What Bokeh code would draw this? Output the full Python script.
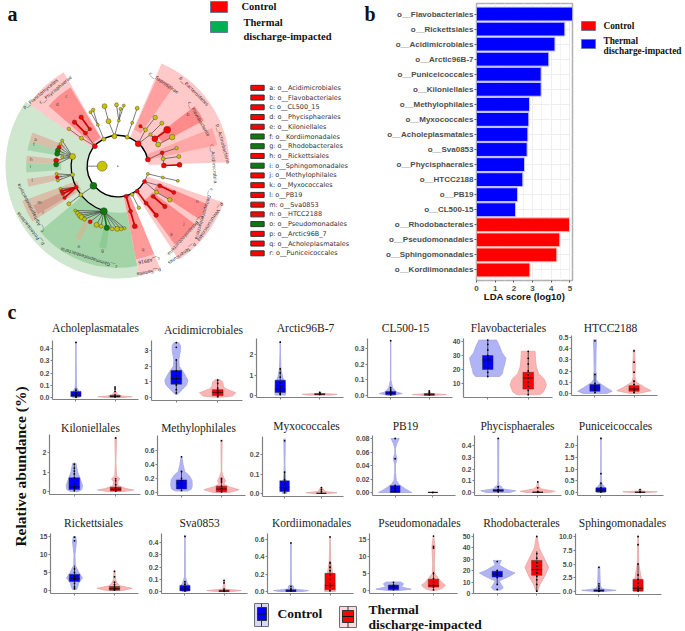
from bokeh.plotting import figure
from bokeh.models import FixedTicker, FactorRange, Range1d, NumeralTickFormatter
from bokeh.embed import file_html
from bokeh.resources import INLINE
from bokeh.core.properties import value

SERIF = "Liberation Serif"
SANS = "Liberation Sans"

# ---------- panel b ----------
lda_names = ["o__Flavobacteriales", "o__Rickettsiales", "o__Acidimicrobiales", "o__Arctic96B-7",
             "o__Puniceicoccales", "o__Kiloniellales", "o__Methylophilales", "o__Myxococcales",
             "o__Acholeplasmatales", "o__Sva0853", "o__Phycisphaerales", "o__HTCC2188", "o__PB19",
             "o__CL500-15", "o__Rhodobacterales", "o__Pseudomonadales", "o__Sphingomonadales",
             "o__Kordiimonadales"]
lda_scores = [5.14, 4.73, 4.2, 3.87, 3.46, 3.46, 2.84, 2.8, 2.75, 2.71, 2.57, 2.48, 2.2, 2.09, 4.98, 4.46, 4.3, 2.86]
lda_groups = ["b"] * 14 + ["r"] * 4

# ---------- panel a legend ----------
clade_letters = list("abcdefghijklmnopqr")
clade_orders = ["Acidimicrobiales", "Flavobacteriales", "CL500_15", "Phycisphaerales", "Kiloniellales",
                "Kordiimonadales", "Rhodobacterales", "Rickettsiales", "Sphingomonadales", "Methylophilales",
                "Myxococcales", "PB19", "Sva0853", "HTCC2188", "Pseudomonadales", "Arctic96B_7",
                "Acholeplasmatales", "Puniceicoccales"]
clade_green = ["f", "g", "i", "o"]

# ---------- panel a cladogram: sector shading (start deg, end deg, inner, outer, colour) ----------
sector_start = [120, 145, 281, 303, 2, 220, 121, 281, 306, 327, 55, 28, 12, 158.5, 164.5, 173.5, 178, 188, 200, 205, 239, 257]
sector_end = [147, 281, 292.5, 341, 67, 281, 139, 292.5, 323, 337, 66, 38, 22, 165, 170, 178, 184, 193, 213, 211, 243, 262]
sector_inner = [92, 92, 285, 92, 92, 140, 100, 92, 130, 130, 120, 150, 92, 170, 165, 170, 170, 170, 130, 150, 190, 190]
sector_outer = [325, 337, 335, 335, 335, 305, 275, 285, 290, 292, 292, 292, 305, 275, 275, 275, 275, 275, 305, 280, 250, 250]
sector_color = ["#ffc9c9", "#cfe6cf", "#ffc9c9", "#ffc9c9", "#ffc9c9", "#a3d4a8", "#ff8f8f", "#ff9a9a",
                "#ff8a8a", "#ff8a8a", "#ff9f9f", "#ff8a8a", "#ffa6a6", "#d9bfa9", "#a8d5ae", "#d9bfa9",
                "#a8d5ae", "#d9bfa9", "#d9bfa9", "#d29f8f", "#c3bf98", "#8ccb94"]

# ---------- panel a cladogram: nodes (x, y, parent x, parent y, colour, size, thick) ----------
clade_nodes = [
    (352, 497, 352, 497, "y", 1, 0), (305, 497, 260, 497, "y", 10, 0),
    (283, 437, 283, 437, "r", 5, 0), (310, 416, 310, 416, "y", 4, 0), (342, 407, 342, 407, "y", 5, 0),
    (380, 410, 380, 410, "y", 4, 0), (413, 430, 413, 430, "r", 6, 0), (442, 477, 442, 477, "r", 5, 0),
    (432, 543, 432, 543, "r", 4, 0), (410, 572, 410, 572, "r", 4, 0), (377, 587, 377, 587, "r", 4, 0),
    (279, 556, 279, 556, "g", 7, 0),
    (243, 413, 283, 437, "y", 4, 0), (205, 385, 243, 413, "y", 3.5, 0), (255, 398, 283, 437, "r", 4, 0),
    (222, 365, 255, 398, "r", 4.5, 1), (268, 386, 255, 398, "r", 3.5, 0), (242, 350, 268, 386, "r", 4.5, 1),
    (292, 373, 310, 416, "y", 3, 0), (270, 335, 292, 373, "y", 3, 0), (278, 328, 292, 373, "y", 3.5, 0),
    (324, 362, 342, 407, "y", 5, 0), (355, 360, 342, 407, "y", 3, 0), (312, 317, 324, 362, "y", 5, 0),
    (348, 313, 355, 360, "y", 4, 0), (360, 325, 355, 360, "y", 3, 0), (370, 315, 355, 360, "y", 3, 0),
    (395, 367, 380, 410, "y", 3, 0), (410, 323, 395, 367, "y", 4, 0),
    (435, 388, 413, 430, "y", 4, 0), (420, 377, 435, 388, "r", 3.5, 0), (464, 351, 435, 388, "y", 4.5, 0),
    (450, 402, 413, 430, "y", 3.5, 0), (484, 368, 450, 402, "y", 4, 0), (463, 415, 450, 402, "r", 6, 0),
    (500, 388, 463, 415, "r", 7, 1), (473, 432, 450, 402, "y", 5, 0), (515, 410, 473, 432, "y", 5.5, 0),
    (485, 457, 442, 477, "r", 4, 0), (528, 443, 485, 457, "y", 3.5, 0), (488, 475, 485, 457, "y", 4, 0),
    (535, 468, 488, 475, "y", 4, 0), (490, 495, 488, 475, "r", 5, 0), (537, 493, 490, 495, "r", 5, 1),
    (442, 520, 432, 543, "y", 3, 0), (487, 531, 442, 520, "y", 3, 0), (532, 541, 487, 531, "y", 3, 0),
    (478, 556, 432, 543, "r", 4, 0), (520, 576, 478, 556, "r", 4, 1), (468, 575, 432, 543, "y", 4, 0),
    (458, 588, 468, 575, "r", 4, 0), (493, 618, 458, 588, "r", 4.5, 1), (508, 598, 468, 575, "y", 4.5, 0),
    (437, 608, 410, 572, "r", 4, 1), (467, 644, 437, 608, "r", 4.5, 1), (395, 582, 410, 572, "y", 3.5, 0),
    (415, 622, 395, 582, "y", 3.5, 0), (390, 632, 377, 587, "r", 4, 1), (403, 677, 390, 632, "r", 5, 1),
    (216, 468, 216, 468, "y", 6, 0), (185, 420, 216, 468, "y", 3, 0), (180, 430, 216, 468, "y", 3, 0),
    (176, 440, 216, 468, "r", 4, 0), (172, 450, 216, 468, "g", 5, 0), (170, 460, 216, 468, "g", 5, 0),
    (185, 470, 216, 468, "y", 3, 0), (167, 480, 216, 468, "r", 5, 0), (167, 492, 216, 468, "g", 5, 0),
    (216, 523, 216, 523, "y", 4, 0), (168, 520, 216, 523, "y", 3, 0), (170, 530, 216, 523, "r", 3.5, 0),
    (172, 540, 216, 523, "y", 3, 0),
    (227, 560, 227, 560, "r", 4, 0), (180, 565, 227, 560, "y", 3, 0), (183, 572, 227, 560, "r", 3.5, 1),
    (187, 580, 227, 560, "r", 3.5, 1), (192, 592, 227, 560, "r", 3.5, 1), (241, 583, 279, 556, "y", 4, 0),
    (205, 610, 241, 583, "y", 4, 0), (310, 632, 310, 632, "g", 7, 0),
    (224, 630, 310, 632, "y", 3, 0), (231, 638, 310, 632, "y", 4, 0), (238, 645, 310, 632, "y", 5, 0),
    (243, 650, 310, 632, "y", 5, 0), (252, 656, 310, 632, "y", 4, 0), (269, 664, 310, 632, "r", 4, 0),
    (288, 673, 310, 632, "y", 5, 0), (302, 677, 310, 632, "y", 4, 0), (319, 682, 310, 632, "g", 5.5, 1),
    (335, 685, 310, 632, "y", 4, 0), (350, 685, 310, 632, "y", 5, 0), (362, 685, 310, 632, "y", 4, 0),
    (372, 683, 310, 632, "y", 3, 0),
]

# ---------- panel a cladogram: rotated labels (x, y, deg, text) ----------
clade_texts = [
    (120, 280, 40, "p__Planctomycetes"), (165, 268, 40, "c__Phycisphaerae"), (490, 247, -35, "c__Saprospirae"),
    (580, 272, -45, "p__Bacteroidetes"), (595, 355, -60, "c__Flavobacteriia"), (667, 430, -75, "p__Actinobacteria"),
    (640, 490, -85, "c__Acidimicrobiia"), (610, 640, -107, "c__Deltaproteobacteria"),
    (630, 665, -123, "p__Verrucomicrobia"), (555, 705, -132, "c__Betaproteobacteria"), (545, 760, -145, "p__Tenericutes"),
    (445, 780, -170, "c__A8916"), (445, 815, -170, "p__Saltella"), (265, 772, 162, "c__Gammaproteobacteria"),
    (90, 622, 117, "c__Alphaproteobacteria"), (90, 685, 128, "p__Proteobacteria"),
]
clade_marks = [
    (170, 311, "d"), (198, 288, "c"), (562, 342, "b"), (427, 748, "q"), (590, 603, "n"), (550, 670, "j"), (513, 703, "k"),
    (105, 417, "a"), (100, 432, "f"), (92, 478, "h"), (90, 497, "i"), (95, 540, "l"), (117, 607, "m"), (128, 637, "r"),
    (235, 737, "e"), (306, 750, "g"),
]

# ---------- panel c: violin outlines, box [lo, q1, med, q3, hi] and samples ----------
acho_c_y = [0, .01, .03, .06, .08, .15, .3, .45]; acho_c_w = [.08, .12, .1, .06, .02, .01, .006, .004]
acho_c_box = [0, .008, .02, .05, .08]; acho_c_pts = [.002, .01, .02, .03, .04, .06, .45]
acho_t_y = [0, .006, .012, .02, .05, .09]; acho_t_w = [.2, .44, .2, .08, .015, .005]
acho_t_box = [0, .004, .008, .018, .03]; acho_t_pts = [.005, .01, .02, .05, .07, .085]

acid_c_y = [.2, .5, .8, 1.1, 1.5, 2, 2.4, 3, 3.3, 3.5]; acid_c_w = [.03, .14, .25, .28, .2, .07, .06, .1, .1, .06]
acid_c_box = [.2, .85, 1.2, 1.72, 2.4]; acid_c_pts = [.3, .5, .8, 1, 1.2, 1.4, 1.7, 2.4, 3.2, 3.5]
acid_t_y = [.02, .1, .3, .55, .7, 1, 1.15]; acid_t_w = [.1, .36, .44, .2, .14, .12, .05]
acid_t_box = [.02, .12, .33, .5, 1.15]; acid_t_pts = [.05, .15, .25, .35, .45, .6, .9, 1.1]

arct_c_y = [.02, .2, .6, .9, 1.3, 2, 2.65]; arct_c_w = [.13, .13, .12, .06, .02, .008, .004]
arct_c_box = [.02, .15, .3, .75, 1.35]; arct_c_pts = [.05, .1, .2, .3, .45, .6, .9, 1.1, 1.3, 2.6]
arct_t_y = [.02, .06, .1, .18]; arct_t_w = [.3, .44, .05, .01]
arct_t_box = [.02, .04, .06, .09, .15]; arct_t_pts = [.05, .07, .1, .15]

cl50_c_y = [0, .012, .022, .05, .1, .35]; cl50_c_w = [.03, .3, .15, .05, .006, .004]
cl50_c_box = [0, .005, .015, .025, .05]; cl50_c_pts = [.005, .015, .025, .035, .05, .35]
cl50_t_y = [0, .006, .012, .03]; cl50_t_w = [.1, .44, .04, .01]
cl50_t_box = [0, .002, .005, .012, .03]; cl50_t_pts = [.004, .01, .02, .03]

flav_c_y = [15, 17, 20, 24, 28, 32, 36, 41]; flav_c_w = [.3, .36, .38, .42, .45, .35, .3, .22]
flav_c_box = [15, 20, 27, 30, 41]; flav_c_pts = [15, 18, 21, 24, 26, 28, 30, 34, 38, 41]
flav_t_y = [2, 4, 9, 13, 17, 22, 27, 33]; flav_t_w = [.28, .38, .45, .4, .26, .2, .18, .17]
flav_t_box = [2, 6, 14, 18, 33]; flav_t_pts = [2, 5, 8, 11, 14, 16, 19, 24, 28, 33]

htcc_c_y = [0, .02, .05, .1, .13, .17, .2, .4, .48]; htcc_c_w = [.3, .44, .3, .08, .03, .04, .02, .03, .04]
htcc_c_box = [0, .02, .05, .08, .17]; htcc_c_pts = [.01, .03, .05, .07, .09, .17, .47]
htcc_t_y = [0, .025, .05, .1, .15, .2, .28, .33, .39]; htcc_t_w = [.1, .44, .3, .06, .02, .03, .03, .02, .02]
htcc_t_box = [0, .02, .04, .07, .12]; htcc_t_pts = [.01, .03, .05, .08, .11, .19, .28, .38]

kilo_c_y = [0, .1, .3, .6, 1, 1.45]; kilo_c_w = [.1, .18, .2, .15, .08, .04]
kilo_c_box = [0, .1, .23, .7, 1.4]; kilo_c_pts = [.05, .15, .25, .4, .7, .9, 1.05, 1.2, 1.4]
kilo_t_y = [0, .08, .15, .3, .5, .65, .8, 1.5, 2.75]; kilo_t_w = [.2, .44, .25, .06, .05, .1, .02, .006, .02]
kilo_t_box = [0, .03, .12, .22, .5]; kilo_t_pts = [.03, .1, .2, .35, .55, .65, 2.75]

meth_c_y = [.02, .05, .1, .18, .25, .3, .4, .51]; meth_c_w = [.15, .25, .27, .26, .18, .08, .04, .01]
meth_c_box = [.02, .05, .13, .18, .3]; meth_c_pts = [.03, .07, .1, .13, .17, .2, .3, .51]
meth_t_y = [0, .04, .08, .12, .17, .22, .3, .74]; meth_t_w = [.2, .44, .2, .06, .1, .05, .006, .015]
meth_t_box = [0, .01, .05, .09, .2]; meth_t_pts = [.01, .03, .06, .09, .15, .18, .2, .74]

myxo_c_y = [0, .02, .06, .1, .15, .28]; myxo_c_w = [.06, .07, .04, .02, .01, .02]
myxo_c_box = [0, .01, .03, .065, .11]; myxo_c_pts = [.005, .015, .03, .05, .07, .11, .27]
myxo_t_y = [0, .004, .01, .03]; myxo_t_w = [.2, .42, .1, .02]
myxo_t_box = [0, 0, .001, .002, .004]; myxo_t_pts = [.002, .012, .02, .03]

pb19_c_y = [0, .005, .012, .018, .03, .042, .05, .058, .065, .072, .08]; pb19_c_w = [.44, .28, .1, .03, .01, .01, .05, .01, .008, .04, .11]
pb19_c_box = [0, 0, .001, .01, .012]; pb19_c_pts = [.002, .006, .01, .05, .08]
pb19_t_y = [0, .0004, .001]; pb19_t_w = [.02, .12, .01]
pb19_t_box = [0, 0, 0, .0003, .0004]; pb19_t_pts = [0]

phyc_c_y = [0, .015, .03, .05, .06, .1, .46]; phyc_c_w = [.3, .44, .12, .08, .02, .01, .015]
phyc_c_box = [0, .01, .015, .025, .05]; phyc_c_pts = [.005, .015, .025, .05, .46]
phyc_t_y = [0, .01, .03, .05, .09]; phyc_t_w = [.3, .44, .1, .03, .005]
phyc_t_box = [0, 0, .002, .005, .01]; phyc_t_pts = [.002, .01, .04, .09]

puni_c_y = [0, .05, .2, .4, .8, 2.35]; puni_c_w = [.1, .12, .1, .02, .006, .003]
puni_c_box = [0, .02, .1, .2, .4]; puni_c_pts = [.02, .1, .2, .4, .8, 2.3]
puni_t_y = [0, .03, .06, .15]; puni_t_w = [.2, .44, .05, .01]
puni_t_box = [0, .005, .01, .02, .05]; puni_t_pts = [.01, .03, .12]

rick_c_y = [.3, 1, 2, 3.5, 5, 7, 10, 13.5, 15]; rick_c_w = [.05, .08, .1, .2, .11, .02, .012, .05, .03]
rick_c_box = [.3, 2.5, 3.3, 4.5, 7]; rick_c_pts = [.5, 1, 2, 3, 3.5, 4, 5, 6, 13.8, 14.8]
rick_t_y = [0, .6, 1.3, 2, 3, 4, 5.5]; rick_t_w = [.2, .44, .14, .07, .03, .02, .01]
rick_t_box = [0, .1, .5, 1.1, 2.2]; rick_t_pts = [.1, .5, 1, 1.6, 2.3, 3.8, 5.3]

sva_c_y = [0, .02, .05, .07, .12, .46]; sva_c_w = [.06, .12, .1, .06, .01, .005]
sva_c_box = [0, .005, .02, .05, .08]; sva_c_pts = [.005, .02, .04, .06, .08, .45]
sva_t_y = [0, .008, .02, .09]; sva_t_w = [.2, .44, .03, .006]
sva_t_box = [0, 0, .003, .01, .02]; sva_t_pts = [.002, .01, .02, .07, .09]

kord_c_y = [0, .01, .03, .06, .08, .3, .56]; kord_c_w = [.3, .45, .06, .07, .01, .006, .008]
kord_c_box = [0, 0, .005, .02, .05]; kord_c_pts = [.005, .015, .03, .06, .56]
kord_t_y = [0, .1, .2, .35, .63]; kord_t_w = [.14, .12, .07, .02, .004]
kord_t_box = [0, .02, .07, .21, .35]; kord_t_pts = [.01, .05, .09, .14, .19, .24, .28, .33, .63]

pseu_c_y = [0, .4, 1, 2, 2.5]; pseu_c_w = [.15, .44, .2, .25, .18]
pseu_c_box = [0, .2, 1, 1.6, 2.4]; pseu_c_pts = [.3, .8, 1.2, 1.6, 2.4]
pseu_t_y = [0, .5, 1.5, 2.5, 5, 8, 13, 16]; pseu_t_w = [.05, .2, .3, .2, .03, .02, .04, .005]
pseu_t_box = [0, 1, 1.4, 3.3, 5.5]; pseu_t_pts = [.2, 1, 1.6, 2.5, 3.5, 5, 12.5, 13, 16]

rhod_c_y = [3, 5, 8, 11, 15, 18, 20, 25, 29]; rhod_c_w = [.08, .15, .1, .05, .3, .45, .3, .05, .1]
rhod_c_box = [8, 14.5, 17, 19.5, 21]; rhod_c_pts = [3.5, 8, 14, 16, 18, 20, 28]
rhod_t_y = [2, 8, 15, 23, 30, 40, 50]; rhod_t_w = [.02, .08, .2, .3, .2, .06, .01]
rhod_t_box = [2, 16, 21, 29, 37]; rhod_t_pts = [2, 8, 12, 15, 18, 21, 24, 27, 31, 35, 50]

sphi_c_y = [0, .2, .5, 1, 2, 4.5]; sphi_c_w = [.1, .44, .08, .04, .03, .02]
sphi_c_box = [0, .05, .15, .3, .7]; sphi_c_pts = [.05, .2, .6, 1, 1.4, 4.4]
sphi_t_y = [0, 1, 2.5, 5, 10]; sphi_t_w = [.12, .12, .08, .02, .005]
sphi_t_box = [0, .1, .6, 2.2, 5]; sphi_t_pts = [.1, .4, .9, 1.5, 2.2, 3, 5, 8.5, 10]

# name, key, tick values
subplot_names = ["Acholeplasmatales", "Acidimicrobiales", "Arctic96B-7", "CL500-15", "Flavobacteriales", "HTCC2188",
                 "Kiloniellales", "Methylophilales", "Myxococcales", "PB19", "Phycisphaerales", "Puniceicoccales",
                 "Rickettsiales", "Sva0853", "Kordiimonadales", "Pseudomonadales", "Rhodobacterales", "Sphingomonadales"]
subplot_keys = ["acho", "acid", "arct", "cl50", "flav", "htcc", "kilo", "meth", "myxo", "pb19", "phyc", "puni",
                "rick", "sva", "kord", "pseu", "rhod", "sphi"]
subplot_ticks = [[0, .1, .2, .3, .4], [0, 1, 2, 3], [0, 1, 2], [0, .1, .2, .3], [10, 20, 30, 40], [0, .1, .2, .3, .4, .5],
                 [0, 1, 2], [0, .2, .4, .6], [0, .1, .2], [0, .02, .04, .06, .08], [0, .1, .2, .3, .4], [0, .5, 1, 1.5, 2],
                 [0, 5, 10, 15], [0, .1, .2, .3, .4], [0, .2, .4, .6], [0, 5, 10, 15], [0, 10, 20, 30, 40, 50], [0, 2.5, 5, 7.5, 10]]
tick_fmt = ["0.0", "0", "0", "0.0", "0", "0.0", "0", "0.0", "0.0", "0.00", "0.0", "0.0", "0", "0.0", "0.0", "0", "0", "0.0"]

# layout: frame left, right, top, bottom; pixel rows of first and last tick; title centre x, y
frames = [(52, 138, 340, 399, 397, 348, 95, 327), (151, 242, 340, 400, 397, 350, 203, 329), (256, 343, 338, 397, 395, 354, 305, 327),
          (367, 452, 338, 397, 395, 348, 405, 327), (463, 552, 338, 397, 383, 341, 508, 327), (571, 657, 335, 395, 393, 337, 610, 327),
          (49, 140, 434, 494, 491, 452, 90, 427), (157, 245, 435, 495, 492, 450, 198, 427), (262, 343, 436, 496, 493, 454, 306, 425),
          (372, 455, 435, 495, 492, 438, 405, 425), (474, 561, 435, 495, 492, 445, 517, 425), (577, 663, 435, 495, 492, 445, 615, 425),
          (50, 138, 533, 593, 590, 536, 93, 522), (161, 247, 533, 593, 591, 542, 199, 522), (267, 353, 533, 593, 591, 539, 311, 522),
          (369, 457, 533, 593, 590, 539, 419, 522), (473, 560, 533, 593, 593, 536, 521, 522), (575, 661, 533, 594, 591, 536, 622, 522)]

figs = []


def place(fig, left, top):
    fig.styles = {"position": "absolute", "left": f"{left}px", "top": f"{top}px"}
    figs.append(fig)


# ---------- page overlay: letters, titles, legends ----------
bg = figure(width=685, height=631, x_range=Range1d(0, 685), y_range=Range1d(631, 0), toolbar_location=None,
            output_backend="svg", min_border=0, outline_line_color=None, background_fill_alpha=0, border_fill_alpha=0)
bg.axis.visible = False
bg.grid.visible = False


def label(x, y, s, size, bold=True, font=SERIF, align="left", angle=0, color="#111111"):
    bg.text([x], [y], text=[s], text_font=value(font), text_font_size=f"{size}px",
            text_font_style="bold" if bold else "normal", text_baseline="middle", text_align=align,
            angle=angle, angle_units="deg", text_color=color)


def box(x0, x1, y0, y1, fill, line="#6a7aa0", w=1):
    bg.quad(left=[x0], right=[x1], top=[y0], bottom=[y1], fill_color=fill, line_color=line, line_width=w)


label(7, 13, "a", 20)
label(364, 13, "b", 20)
label(7, 311, "c", 20)
box(210, 227, 1, 12, "#ff0000")
box(210, 227, 21, 32, "#00b050")
label(241, 6, "Control", 10.5)
label(243, 22, "Thermal", 10.5)
label(243, 36, "discharge-impacted", 10.5)
box(581, 595, 21, 30, "#ff0000")
box(581, 595, 39, 48, "#0000ff")
label(603, 25, "Control", 9.3)
label(603, 40, "Thermal", 9.3)
label(603, 50, "discharge-impacted", 9.3)
label(524, 296, "LDA score (log10)", 9.5, font=SANS, align="center", color="#111111")
label(20, 466, "Relative abundance (%)", 15.5, align="center", angle=90)
for name, fr in zip(subplot_names, frames):
    label(fr[6], fr[7], name, 11.5, bold=False, align="center", color="#222222")

# bottom legend
box(254, 268, 603, 626, "#d5d7fb", "#707070")
bg.segment([261], [603], [261], [626], line_color="#333333", line_width=1)
box(257, 266, 607, 620, "#0000ff", "#333333")
bg.segment([257], [613.5], [266], [613.5], line_color="#111111", line_width=1)
label(277, 613, "Control", 13.5)
box(339, 356, 606, 627, "#fbdcdc", "#707070")
bg.segment([347.5], [606], [347.5], [627], line_color="#333333", line_width=1)
box(342, 353, 610, 622, "#ff0000", "#333333")
bg.segment([342], [616], [353], [616], line_color="#111111", line_width=1)
label(368, 609, "Thermal", 13.5)
label(368, 624, "discharge-impacted", 13.5)
place(bg, 0, 0)

# ---------- panel a ----------
pa = figure(width=360, height=300, x_range=Range1d(0, 1080), y_range=Range1d(0, 900), toolbar_location=None,
            output_backend="svg", min_border=0, outline_line_color=None, background_fill_alpha=0, border_fill_alpha=0)
pa.axis.visible = False
pa.grid.visible = False
CX, CY = 352, 403
pa.annular_wedge([CX] * len(sector_start), [CY] * len(sector_start), inner_radius=sector_inner, outer_radius=sector_outer,
                 start_angle=sector_start, end_angle=sector_end, start_angle_units="deg", end_angle_units="deg",
                 fill_color=sector_color, line_color=None, fill_alpha=1)
pa.arc([CX], [CY], radius=92, start_angle=12, end_angle=330, start_angle_units="deg", end_angle_units="deg",
       line_color="black", line_width=1.4)
pa.arc([CX], [CY], radius=140, start_angle=168, end_angle=252, start_angle_units="deg", end_angle_units="deg",
       line_color="black", line_width=1.3)
nx = [n[0] for n in clade_nodes]
ny = [900 - n[1] for n in clade_nodes]
px_ = [n[2] for n in clade_nodes]
py_ = [900 - n[3] for n in clade_nodes]
pal = {"y": "#c9c400", "r": "#ff0000", "g": "#0c7a0c"}
pa.segment(px_, py_, nx, ny, line_color=["#cc0000" if n[6] and n[4] == "r" else ("#0c7a0c" if n[6] else "#444444") for n in clade_nodes],
           line_width=[1.7 if n[6] else 0.7 for n in clade_nodes])
pa.scatter(nx, ny, size=[n[5] for n in clade_nodes], fill_color=[pal[n[4]] for n in clade_nodes], line_color="#333333", line_width=0.4)
for x, y, deg, s in clade_texts:
    pa.text([x], [900 - y], text=[s], angle=deg, angle_units="deg", text_font=value("DejaVu Sans"), text_font_size="4.6px",
            text_align="center", text_baseline="middle", text_color="#333333")
pa.text([m[0] for m in clade_marks], [900 - m[1] for m in clade_marks], text=[m[2] for m in clade_marks],
        text_font=value("DejaVu Sans"), text_font_size="4.6px", text_align="center", text_baseline="middle", text_color="#444444")
# legend of clades
rows = list(range(len(clade_letters)))
leg_y = [900 - (262 + 29.2 * i) for i in rows]
pa.rect([771] * len(rows), leg_y, width=40, height=15,
        fill_color=["#0c7a0c" if c in clade_green else "#ff0000" for c in clade_letters], line_color="#333333", line_width=1)
pa.text([806] * len(rows), leg_y, text=[f"{c}: o__{o}" for c, o in zip(clade_letters, clade_orders)],
        text_font=value("DejaVu Sans"), text_font_size="6.5px", text_baseline="middle", text_color="#333333")
place(pa, 0, 0)

# ---------- panel b ----------
BL = 136
pb = figure(width=BL + 96 + 4, height=277 + 3 + 12, frame_width=96, frame_height=277, min_border_left=BL, min_border_right=4,
            min_border_top=3, min_border_bottom=12,
            x_range=Range1d(0, 5.14), y_range=FactorRange(factors=lda_names[::-1], range_padding=0.2, range_padding_units="absolute"),
            toolbar_location=None, output_backend="svg", background_fill_color="white", border_fill_alpha=0,
            outline_line_color="#b0b0b0", outline_line_width=1.5)
pb.hbar(y=lda_names, right=lda_scores, height=0.92, left=0,
        fill_color=["#0000ff" if g == "b" else "#ff0000" for g in lda_groups],
        line_color=["#c4c4ff" if g == "b" else "#ffc4c4" for g in lda_groups], line_width=1)
pb.xaxis.ticker = FixedTicker(ticks=[0, 1, 2, 3, 4, 5], minor_ticks=[.5, 1.5, 2.5, 3.5, 4.5])
pb.xgrid.grid_line_color = "#eeeeee"
pb.xgrid.minor_grid_line_color = "#f4f4f4"
pb.ygrid.grid_line_color = "#eeeeee"
for ax in (pb.xaxis[0], pb.yaxis[0]):
    ax.major_label_text_font = SANS
    ax.major_label_text_font_size = "8px"
    ax.major_label_text_font_style = "bold"
    ax.major_label_text_color = "#4d4d4d"
    ax.axis_line_color = None
    ax.major_tick_line_color = "#555555"
    ax.major_tick_in = 0
    ax.major_tick_out = 2
    ax.minor_tick_line_color = None
    ax.major_label_standoff = 1
place(pb, 476 - BL, 3 - 3)

# ---------- panel c ----------
CTRL = ("#b0b4f7", "#a4a7e0", "#0000ff")
TREAT = ("#ffb3b3", "#e2a8a8", "#ff0000")
ML = 30
for i, (name, key) in enumerate(zip(subplot_names, subplot_keys)):
    l, r, t, b, p0, p1, _, _ = frames[i]
    ticks = subplot_ticks[i]
    per_px = (ticks[-1] - ticks[0]) / (p0 - p1)
    y0 = ticks[0] - (b - p0) * per_px
    y1 = ticks[-1] + (p1 - t) * per_px
    w, h = r - l, b - t
    f = figure(width=ML + w + 2, height=2 + h + 6, frame_width=w, frame_height=h, min_border_left=ML, min_border_right=2,
               min_border_top=2, min_border_bottom=6, x_range=Range1d(0.4, 2.6), y_range=Range1d(y0, y1),
               toolbar_location=None, output_backend="svg", outline_line_color=None,
               background_fill_alpha=0, border_fill_alpha=0)
    f.grid.visible = False
    for pos, suffix, (fill, edge, solid) in ((1, "c", CTRL), (2, "t", TREAT)):
        vy = globals()[f"{key}_{suffix}_y"]
        vw = globals()[f"{key}_{suffix}_w"]
        lo, q1, med, q3, hi = globals()[f"{key}_{suffix}_box"]
        pts = globals()[f"{key}_{suffix}_pts"]
        f.patch([pos - a for a in vw] + [pos + a for a in vw[::-1]], vy + vy[::-1], fill_color=fill, line_color=edge, line_width=0.8)
        f.segment([pos], [lo], [pos], [hi], line_color="#111111", line_width=0.7)
        f.quad(left=[pos - 0.13], right=[pos + 0.13], bottom=[q1], top=[q3], fill_color=solid, line_color="#333333", line_width=0.5)
        f.segment([pos - 0.13], [med], [pos + 0.13], [med], line_color="#111111", line_width=0.8)
        f.scatter([pos] * len(pts), pts, size=1.8, fill_color="black", line_color="black", line_width=0)
    # the x axis carries only small tick marks and no labels
    f.xaxis.ticker = FixedTicker(ticks=[], minor_ticks=[1, 2])
    f.xaxis.minor_tick_line_color = "#808080"
    f.xaxis.minor_tick_in = 0
    f.xaxis.minor_tick_out = 2
    f.yaxis.ticker = FixedTicker(ticks=ticks)
    f.yaxis.minor_tick_line_color = None
    f.yaxis.formatter = NumeralTickFormatter(format=tick_fmt[i])
    for ax in (f.xaxis[0], f.yaxis[0]):
        ax.axis_line_color = "#808080"
        ax.axis_line_width = 1.2
        ax.major_tick_line_color = "#808080"
        ax.major_tick_in = 0
        ax.major_tick_out = 2
    f.yaxis.major_label_text_font = SANS
    f.yaxis.major_label_text_font_size = "7px"
    f.yaxis.major_label_text_font_style = "bold"
    f.yaxis.major_label_text_color = "#4d4d4d"
    f.yaxis.major_label_standoff = 1
    place(f, l - ML, t - 2)

open("out.html", "w").write(file_html(figs, INLINE))
